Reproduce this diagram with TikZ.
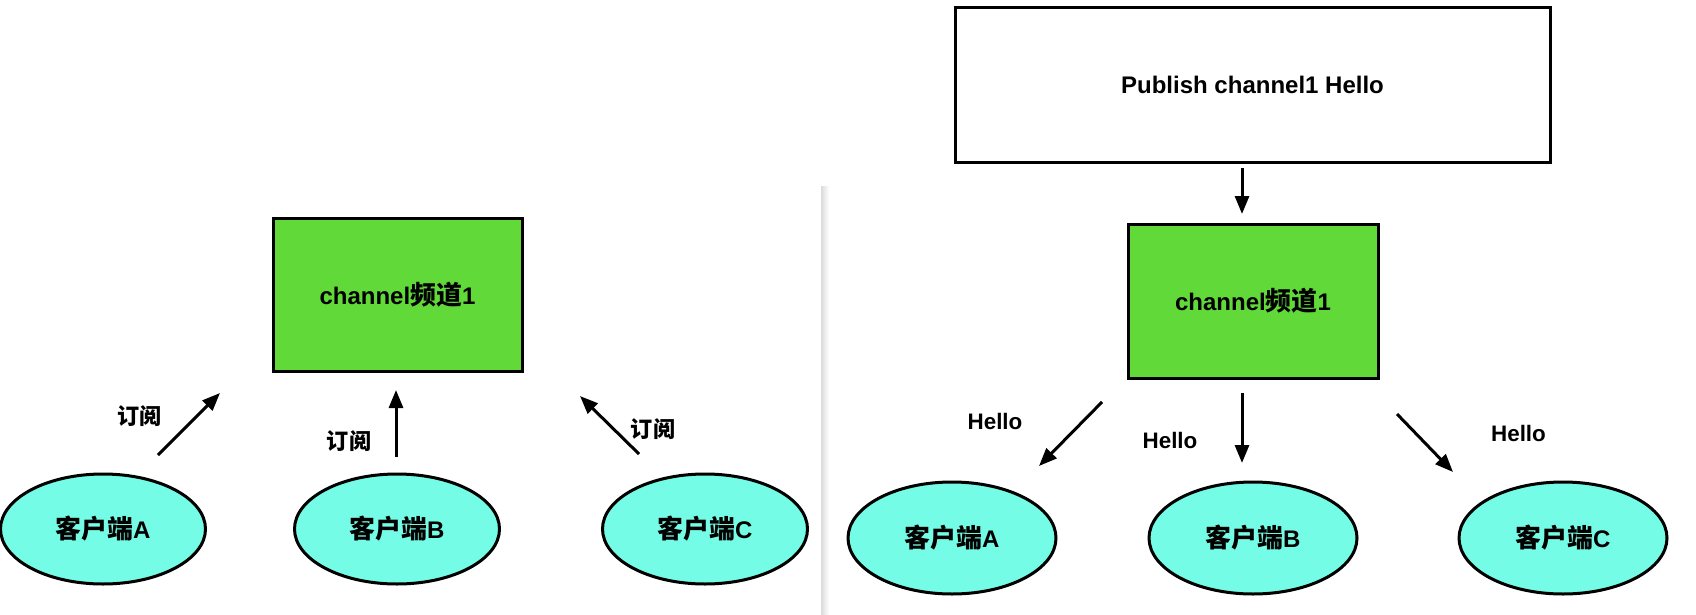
\documentclass[tikz,border=0pt]{standalone}
\usepackage{fontspec}
\setmainfont{Liberation Sans}
\newfontfamily\zhfont{Noto Sans CJK SC}[Scale=1.08]
\newcommand{\zh}[1]{{\zhfont\bfseries #1}}
\usetikzlibrary{arrows.meta,shapes.geometric}
\definecolor{boxgreen}{RGB}{96,217,57}
\definecolor{clientcyan}{RGB}{117,252,230}
\tikzset{
  chanbox/.style={draw=black, line width=3pt, fill=boxgreen, minimum width=249pt, minimum height=153pt, inner sep=0pt, font=\fontsize{24}{28}\selectfont\bfseries},
  pubbox/.style={draw=black, line width=3pt, fill=white, minimum width=595pt, minimum height=154pt, inner sep=0pt, font=\fontsize{24}{28}\selectfont\bfseries},
  client/.style={draw=black, line width=3pt, fill=clientcyan, ellipse, minimum width=205pt, minimum height=110pt, inner sep=0pt, font=\fontsize{24}{28}\selectfont\bfseries},
  flow/.style={line width=3pt, -{Triangle[length=18pt,width=14pt]}},
  sublbl/.style={font=\fontsize{20.5}{24}\selectfont\bfseries, inner sep=0pt},
  hellolbl/.style={font=\fontsize{22.4}{26}\selectfont\bfseries, inner sep=0pt}
}
\begin{document}
\begin{tikzpicture}[x=1pt,y=-1pt]
\useasboundingbox[fill=white] (0,0) rectangle (1696,615);
% divider
\shade[left color=black!14, right color=white] (821,186) rectangle (829,615);
% left panel
\node[chanbox] (lch) at (397.5,294.5) {\raisebox{-3pt}{channel\zh{频道}1}};
\node[client] (la) at (103,529) {\zh{客户端}A};
\node[client] (lb) at (397,529) {\zh{客户端}B};
\node[client] (lc) at (705,529) {\zh{客户端}C};
\coordinate (la1) at (158,455); \coordinate (la2) at (220,393);
\coordinate (lb1) at (396,457); \coordinate (lb2) at (396,390);
\coordinate (lc1) at (639,454); \coordinate (lc2) at (580,396);
\draw[flow] (la1) -- (la2);
\draw[flow] (lb1) -- (lb2);
\draw[flow] (lc1) -- (lc2);
\node[sublbl] (lsa) at (139.5,416) {\zh{订阅}};
\node[sublbl] (lsb) at (349,441) {\zh{订阅}};
\node[sublbl] (lsc) at (653,429) {\zh{订阅}};
% right panel
\node[pubbox] (pub) at (1252.5,85) {Publish channel1 Hello};
\node[chanbox, minimum width=250pt, minimum height=154pt] (rch) at (1253,301) {\raisebox{-2pt}{channel\zh{频道}1}};
\node[client, minimum width=208pt, minimum height=112pt] (ra) at (952,538) {\zh{客户端}A};
\node[client, minimum width=208pt, minimum height=112pt] (rb) at (1253,538) {\zh{客户端}B};
\node[client, minimum width=208pt, minimum height=112pt] (rc) at (1563,538) {\zh{客户端}C};
\coordinate (rt1) at (1242,168); \coordinate (rt2) at (1242,214);
\coordinate (ra1) at (1102,402); \coordinate (ra2) at (1039,466);
\coordinate (rb1) at (1242,393); \coordinate (rb2) at (1242,463);
\coordinate (rc1) at (1397,414); \coordinate (rc2) at (1453,472);
\draw[flow] (rt1) -- (rt2);
\draw[flow] (ra1) -- (ra2);
\draw[flow] (rb1) -- (rb2);
\draw[flow] (rc1) -- (rc2);
\node[hellolbl] (rha) at (995,421) {Hello};
\node[hellolbl] (rhb) at (1170,440) {Hello};
\node[hellolbl] (rhc) at (1518.5,433) {Hello};
\end{tikzpicture}
\end{document}
